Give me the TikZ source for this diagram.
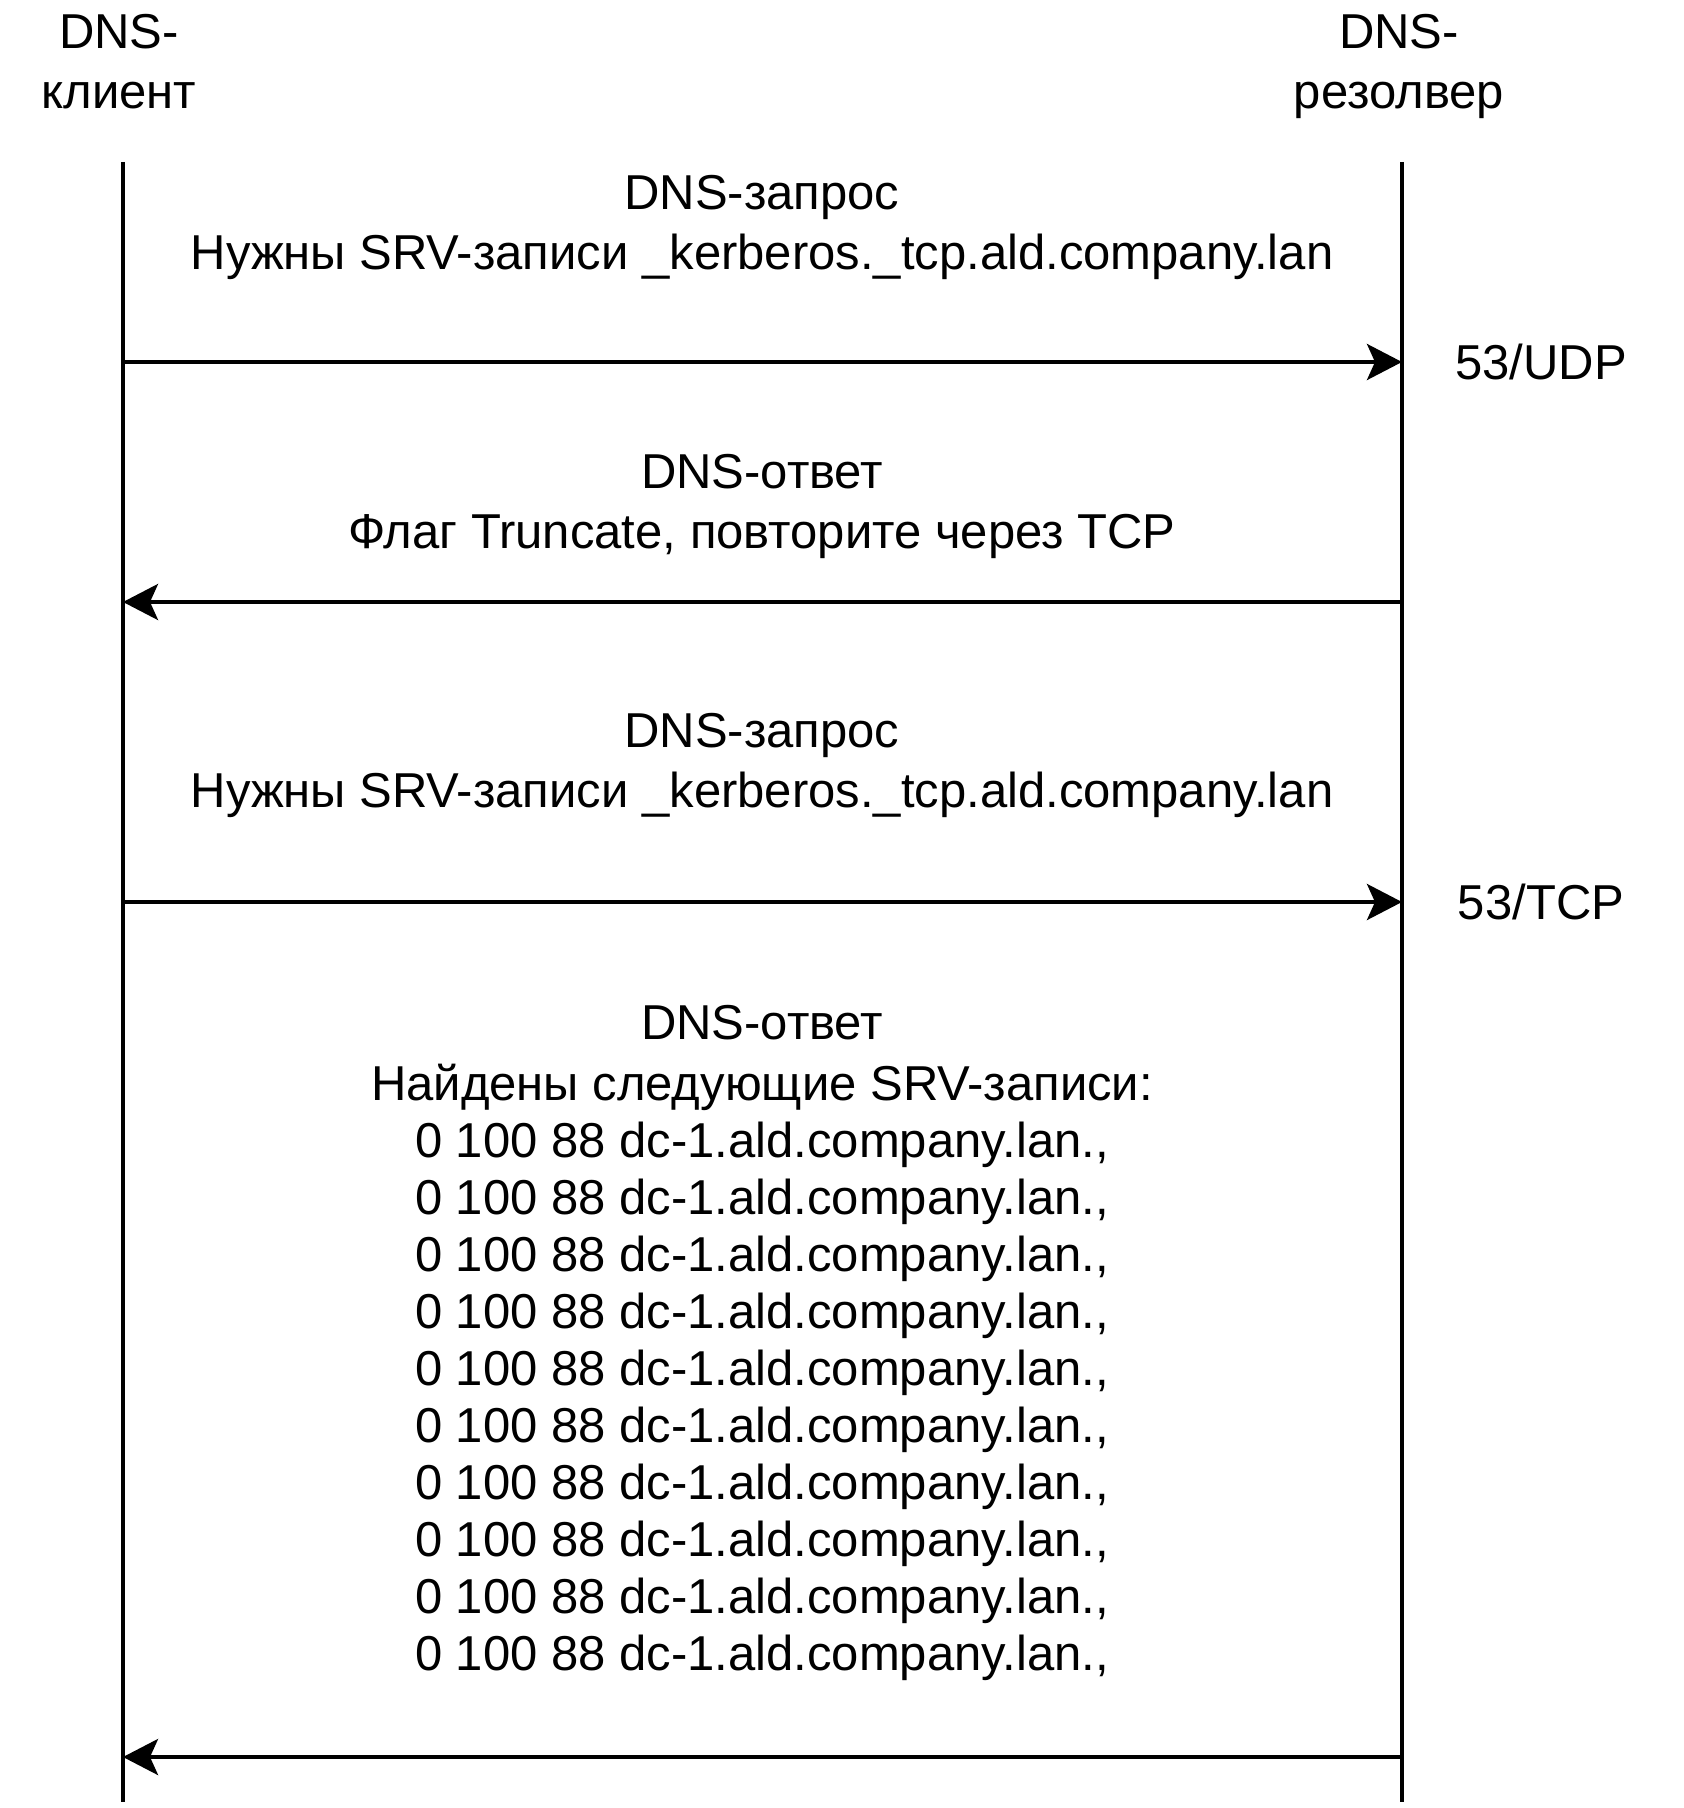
\documentclass[tikz,border=0pt]{standalone}
\usepackage{fontspec}
\setmainfont{Liberation Sans}
\usetikzlibrary{arrows.meta}
\tikzset{
  msg/.style={font=\fontsize{24.5}{30}\selectfont,align=center,inner sep=0pt},
  life/.style={line width=2pt},
  call/.style={line width=2pt,-{Stealth[length=17.5pt,width=18pt,inset=4pt]}}
}

\begin{document}
\begin{tikzpicture}[x=0.5pt,y=-0.5pt]
\useasboundingbox (0,0) rectangle (1684,1808);
% участники и линии жизни
\node[msg,anchor=north] (cli) at (119,14) {DNS-\\клиент};
\node[msg,anchor=north] (res) at (1399,14) {DNS-\\резолвер};
\coordinate (cliTop) at (123,162);
\coordinate (cliBot) at (123,1802);
\coordinate (resTop) at (1402,162);
\coordinate (resBot) at (1402,1802);
\draw[life] (cliTop)--(cliBot);
\draw[life] (resTop)--(resBot);
% точки сообщений
\coordinate (c1) at (123,362); \coordinate (r1) at (1402,362);
\coordinate (c2) at (123,602); \coordinate (r2) at (1402,602);
\coordinate (c3) at (123,902); \coordinate (r3) at (1402,902);
\coordinate (c4) at (123,1757); \coordinate (r4) at (1402,1757);
\draw[call] (c1)--(r1);
\draw[call] (r2)--(c2);
\draw[call] (c3)--(r3);
\draw[call] (r4)--(c4);
% подписи
\node[msg,anchor=north] (q1) at (762,175) {DNS-запрос\\Нужны SRV-записи \_kerberos.\_tcp.ald.company.lan};
\node[msg] (udp) at (1541,362) {53/UDP};
\node[msg,anchor=north] (a1) at (762,454) {DNS-ответ\\Флаг Truncate, повторите через TCP};
\node[msg,anchor=north] (q2) at (762,713) {DNS-запрос\\Нужны SRV-записи \_kerberos.\_tcp.ald.company.lan};
\node[msg] (tcp) at (1541,902) {53/TCP};
\node[msg,anchor=north,font=\fontsize{24.5}{28.5}\selectfont] (a2) at (762,1005) {DNS-ответ\\[2pt]Найдены следующие SRV-записи:\\
0 100 88 dc-1.ald.company.lan.,\\0 100 88 dc-1.ald.company.lan.,\\
0 100 88 dc-1.ald.company.lan.,\\0 100 88 dc-1.ald.company.lan.,\\
0 100 88 dc-1.ald.company.lan.,\\0 100 88 dc-1.ald.company.lan.,\\
0 100 88 dc-1.ald.company.lan.,\\0 100 88 dc-1.ald.company.lan.,\\
0 100 88 dc-1.ald.company.lan.,\\0 100 88 dc-1.ald.company.lan.,};
\end{tikzpicture}
\end{document}
